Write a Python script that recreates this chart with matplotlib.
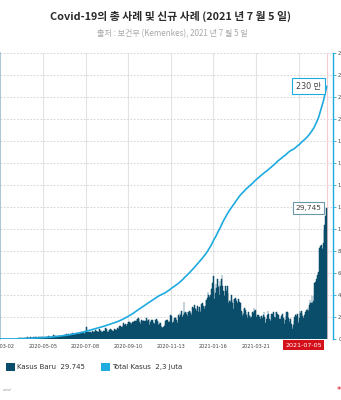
import numpy as np
import pandas as pd
import matplotlib
matplotlib.use("Agg")
import matplotlib.pyplot as plt
from matplotlib.patches import Patch

plt.rcParams['font.family'] = ['DejaVu Sans', 'Noto Sans CJK KR']

# kasus baru harian, mulai 2020-03-02
kasus_baru = [
    # 2020-03
    2, 0, 2, 0, 0, 0, 0, 2, 13, 8, 7, 35, 27, 21, 17, 38, 55, 82, 60, 81,
    64, 65, 106, 105, 103, 153, 109, 130, 129, 114,
    # 2020-04
    149, 113, 196, 106, 181, 218, 247, 218, 337, 219, 330, 399, 316, 282, 297,
    380, 407, 325, 327, 185, 375, 283, 357, 436, 396, 275, 214, 415, 260, 347,
    # 2020-05
    433, 292, 349, 395, 484, 367, 338, 336, 533, 387, 233, 484, 689, 568, 490,
    529, 489, 496, 486, 693, 973, 634, 949, 526, 479, 415, 687, 686, 678, 557, 700,
    # 2020-06
    467, 609, 684, 585, 703, 993, 672, 847, 1043, 1241, 979, 1111, 1014, 857, 1017,
    1106, 1031, 1331, 1041, 862, 1226, 954, 1051, 1113, 1178, 1385, 1198, 1385, 1082, 1293,
    # 2020-07
    1293, 1624, 1301, 1447, 1607, 1209, 1268, 1853, 2657, 1611, 1671, 1681, 1282, 1591, 1522,
    1574, 1462, 1752, 1639, 1693, 1655, 1882, 2040, 1761, 1868, 1492, 1525, 1748, 2381, 1904, 2040,
    # 2020-08
    1560, 1519, 1679, 1815, 1922, 1815, 2473, 2277, 1893, 1687, 1693, 1942, 2098, 2307, 2345,
    2081, 1821, 1673, 1902, 2266, 2197, 2090, 2037, 1877, 2447, 2306, 2719, 3003, 2858, 2495, 2743,
    # 2020-09
    2775, 3075, 3622, 3269, 3128, 3444, 2880, 3046, 3307, 3861, 3737, 3806, 3636, 3141, 3507,
    3963, 3635, 3891, 4168, 3989, 4176, 4071, 4465, 4634, 4823, 4494, 3874, 3509, 4002, 4284,
    # 2020-10
    4174, 4317, 4007, 3992, 3622, 4056, 4850, 4369, 4094, 4294, 4497, 3267, 3906, 4127, 4411,
    4301, 4105, 3732, 3373, 3602, 4267, 4432, 4369, 4070, 3222, 3843, 3520, 3565, 2897, 2696, 2481,
    # 2020-11
    2696, 2618, 2973, 3356, 4065, 4262, 4303, 4262, 3880, 3779, 3770, 4173, 5444, 5272, 3807,
    3535, 3807, 4265, 4792, 4798, 4998, 4360, 3726, 4192, 5534, 4917, 5828, 5418, 6267, 4617,
    # 2020-12
    5092, 5533, 8369, 5803, 6027, 6089, 5754, 5292, 6058, 6033, 6388, 6310, 5990, 5489, 6120,
    7354, 7068, 6689, 7751, 6848, 6954, 6347, 7514, 7199, 6135, 7203, 6528, 6235, 7903, 8002, 8074,
    # 2021-01
    7585, 7203, 6877, 7445, 8854, 8776, 9321, 10617, 10046, 9640, 8692, 10047, 11278, 11557, 12818,
    14224, 11287, 9086, 10365, 12568, 11703, 13632, 12191, 11788, 9994, 13094, 11948, 13695, 14518,
    12001, 10994,
    # 2021-02
    10994, 9858, 11984, 11434, 10862, 12156, 10518, 8242, 8700, 8776, 8435, 10016, 8844, 8169,
    6765, 9140, 9014, 9416, 9003, 8744, 8126, 7144, 9039, 8453, 7335, 8232, 6403, 6130,
    # 2021-03
    5242, 5694, 6825, 6971, 6642, 6140, 5480, 4715, 5633, 6116, 5133, 5414, 4869, 5086, 4585,
    6233, 5894, 7092, 6267, 6585, 4934, 4890, 5463, 5227, 5467, 4965, 5321, 4466, 5248, 5036, 4826,
    # 2021-04
    5555, 6086, 5011, 3733, 3581, 4549, 5472, 6253, 5723, 4649, 4245, 4127, 5656, 5720, 5656,
    6177, 5041, 4952, 4805, 6130, 6243, 5720, 5534, 5436, 4585, 4123, 4656, 5241, 5444, 5657,
    # 2021-05
    4829, 4512, 3419, 4369, 5285, 6130, 6130, 5962, 4800, 3922, 4608, 4659, 3448, 2633, 2385,
    3080, 3992, 4953, 5523, 5746, 5296, 5694, 4185, 3683, 4725, 6278, 5797, 6293, 5862, 5296, 4798,
    # 2021-06
    4824, 5463, 6218, 6209, 6486, 6590, 6993, 6294, 7725, 8892, 8161, 8083, 9868, 8189, 8634,
    9944, 12624, 12990, 12906, 13737, 14536, 13633, 15308, 20574, 18872, 21095, 21342, 20694,
    20467, 21807,
    # 2021-07
    24836, 25830, 27913, 27233, 29745,
]

tanggal = pd.date_range("2020-03-02", periods=len(kasus_baru), freq="D")
total_kasus = np.cumsum(kasus_baru)

tick_tanggal = pd.date_range("2020-03-02", periods=8, freq="64D")
tick_label = [d.strftime('%Y-%m-%d') for d in tick_tanggal[:-1]] + ['']
yticks_kiri = np.arange(0, 65001, 5000)
yticks_kanan = np.arange(0, 2600001, 200000)

warna_baru = '#0a4d6b'
warna_total = '#1faae0'

fig = plt.figure(figsize=(3.41, 4.0), dpi=100)
ax = fig.add_axes([0, 1 - 339 / 400, 333 / 341, 286 / 400])
ax2 = ax.twinx()

ax.bar(tanggal, kasus_baru, width=1.0, color=warna_baru, edgecolor=warna_baru,
       linewidth=0.35, zorder=2)
ax2.plot(tanggal, total_kasus, color=warna_total, lw=1.2, solid_capstyle='round')

ax.set_xlim(tanggal[0] - pd.Timedelta(hours=12), tanggal[0] + pd.Timedelta(hours=12 + 24 * 499))
ax.set_ylim(0, 65000)
ax2.set_ylim(0, 2600000)

ax.set_axisbelow(True)
ax.set_yticks(yticks_kiri)
ax.grid(axis='y', linestyle=(0, (2, 2)), color='#cdcdcd', lw=0.6)
ax.set_xticks(tick_tanggal)
ax.set_xticklabels(tick_label)
ax.grid(axis='x', color='#e3e3e3', lw=0.8)
ax.tick_params(axis='x', length=0, labelsize=3.6, pad=3.5, labelcolor='#444444')
ax.tick_params(axis='y', length=0, labelleft=False)

ax2.set_yticks(yticks_kanan)
ax2.set_yticklabels(['0' if v == 0 else f'{v // 10000} 만' for v in yticks_kanan])
ax2.tick_params(axis='y', length=2.2, width=0.6, color=warna_total, labelsize=3.8,
                pad=1.5, labelcolor='#444444')

for s in ['top', 'bottom', 'right']:
    ax.spines[s].set_visible(False)
for s in ['top', 'bottom', 'left']:
    ax2.spines[s].set_visible(False)
ax.spines['left'].set_color('#a9c6d2')
ax.spines['left'].set_linewidth(1.3)
ax2.spines['right'].set_color(warna_total)
ax2.spines['right'].set_linewidth(1.0)

ax.axvline(tanggal[-1], color='#f6cccc', lw=0.8, zorder=1)

# label nilai terakhir
ax2.annotate('230 만', xy=(tanggal[-1], total_kasus[-1]), xytext=(-4, 0),
             textcoords='offset points', ha='right', va='center', fontsize=5.8,
             color='#444444', annotation_clip=False,
             bbox=dict(boxstyle='square,pad=0.45', fc='white', ec=warna_total, lw=0.8))
ax2.annotate(f'{kasus_baru[-1]:,}', xy=(tanggal[-1], kasus_baru[-1] / 65000 * 2600000),
             xytext=(-4, 0), textcoords='offset points', ha='right', va='center',
             fontsize=5.4, color='#444444', annotation_clip=False,
             bbox=dict(boxstyle='square,pad=0.35', fc='white', ec='#6b98a8', lw=0.8))
ax2.annotate(tanggal[-1].strftime('%Y-%m-%d'), xy=(tanggal[-1], 0), xytext=(-3.5, -4.6),
             textcoords='offset points', ha='right', va='center', fontsize=4.6,
             color='white', annotation_clip=False,
             bbox=dict(boxstyle='square,pad=0.4', fc='#d4101b', ec='none'))

fig.text(170 / 341, 1 - 16 / 400, 'Covid-19의 총 사례 및 신규 사례 (2021 년 7 월 5 일)',
         ha='center', va='center', fontsize=7.8, fontweight='bold', color='#2a2a2a',
         family=['Noto Sans CJK KR', 'DejaVu Sans'])
fig.text(172 / 341, 1 - 34 / 400, '출처 : 보건부 (Kemenkes), 2021 년 7 월 5 일',
         ha='center', va='center', fontsize=5.8, color='#a8a8a8',
         family=['Noto Sans CJK KR', 'DejaVu Sans'])

handles = [Patch(facecolor=warna_baru, edgecolor='none'),
           Patch(facecolor=warna_total, edgecolor='none')]
fig.legend(handles, [f'Kasus Baru  {kasus_baru[-1]:,}'.replace(',', '.'), 'Total Kasus  2,3 Juta'],
           loc='center left', bbox_to_anchor=(6 / 341, 1 - 367 / 400), ncol=2, frameon=False,
           fontsize=5.0, handlelength=1.3, handleheight=1.3, handletextpad=0.3,
           columnspacing=2.3, borderpad=0, borderaxespad=0, labelcolor='#333333')

fig.text(3 / 341, 1 - 390 / 400, 'csid', fontsize=3.2, color='#9a9a9a', style='italic',
         va='center')
fig.text(337 / 341, 1 - 390 / 400, '*', fontsize=6, color='#d4101b', va='center')

fig.savefig('out.png', dpi=100)
